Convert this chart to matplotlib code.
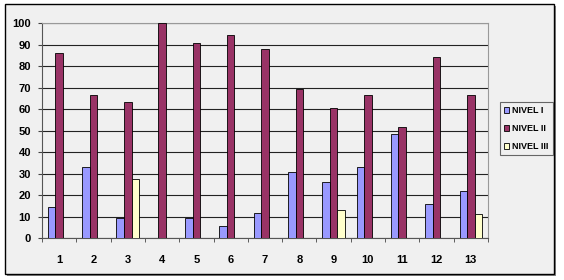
"""Grouped bar chart: NIVEL I / II / III by item number (Excel-style)."""

import matplotlib
matplotlib.use("Agg")
import matplotlib.pyplot as plt
import numpy as np
from matplotlib.patches import Rectangle

categories = ["1", "2", "3", "4", "5", "6", "7", "8", "9", "10", "11", "12", "13"]
nivel_1 = [14.4, 33.3, 9.4, 0, 9.4, 5.6, 11.6, 30.8, 26.3, 33.2, 48.4, 15.8, 22.1]
nivel_2 = [86.0, 66.7, 63.3, 100, 90.9, 94.7, 88.2, 69.3, 60.7, 66.7, 51.6, 84.2, 66.7]
nivel_3 = [0, 0, 27.4, 0, 0, 0, 0, 0, 13.0, 0, 0, 0, 11.2]
series_labels = ["NIVEL I", "NIVEL II", "NIVEL III"]
y_ticks = list(range(0, 101, 10))

colors = ["#9999FF", "#993366", "#FFFFCC"]
bg = "#F0F0F0"

plt.rcParams["font.family"] = ["Liberation Sans", "DejaVu Sans"]
plt.rcParams["font.weight"] = "bold"

fig = plt.figure(figsize=(5.64, 2.80), dpi=100, facecolor="white")

# shadow + outer chart frame, drawn under the axes
shadow = Rectangle((7 / 564, 1 - 276 / 280), 549 / 564, 270 / 280,
                   transform=fig.transFigure, facecolor="#888888",
                   edgecolor="none", zorder=-11)
frame = Rectangle((5 / 564, 1 - 274 / 280), 549 / 564, 270 / 280,
                  transform=fig.transFigure, facecolor=bg,
                  edgecolor="black", linewidth=1.0, zorder=-10)
fig.patches.extend([shadow, frame])

ax = fig.add_axes([42 / 564, 1 - 238.3 / 280, 446 / 564, 215 / 280])
ax.set_facecolor(bg)

x = np.arange(len(categories))
w = 0.22
for i, (vals, lab) in enumerate(zip([nivel_1, nivel_2, nivel_3], series_labels)):
    ax.bar(x + (i - 1) * w, vals, width=w, color=colors[i], edgecolor="black",
           linewidth=0.6, label=lab, zorder=3)

ax.set_xlim(-0.5, len(categories) - 0.5)
ax.set_ylim(0, 100)
ax.set_yticks(y_ticks)
ax.yaxis.grid(True, color="#222222", linewidth=0.8, zorder=1)
ax.set_axisbelow(True)

ax.set_xticks(x)
ax.set_xticklabels(categories, fontsize=8, fontweight="bold")
ax.set_xticks(np.arange(-0.5, len(categories)), minor=True)
ax.tick_params(axis="x", which="major", length=0, pad=12)
ax.tick_params(axis="x", which="minor", length=3, color="#444444", direction="out")
ax.tick_params(axis="y", length=3, pad=5, color="#444444", labelsize=8)
for t in ax.get_yticklabels():
    t.set_fontweight("bold")

for side in ["left", "bottom"]:
    ax.spines[side].set_color("#555555")
    ax.spines[side].set_linewidth(0.8)
for side in ["top", "right"]:
    ax.spines[side].set_color("#999999")
    ax.spines[side].set_linewidth(0.8)

leg = fig.legend(loc="upper left", bbox_to_anchor=(500 / 564, 1 - 102 / 280),
                 frameon=True, fancybox=False, edgecolor="#444444",
                 facecolor=bg, fontsize=6.5, handlelength=0.6, handleheight=0.6,
                 handletextpad=0.3, labelspacing=1.0, borderpad=0.45,
                 borderaxespad=0)
leg.get_frame().set_linewidth(0.8)
for t in leg.get_texts():
    t.set_fontweight("bold")

fig.savefig("out.png", dpi=100)
